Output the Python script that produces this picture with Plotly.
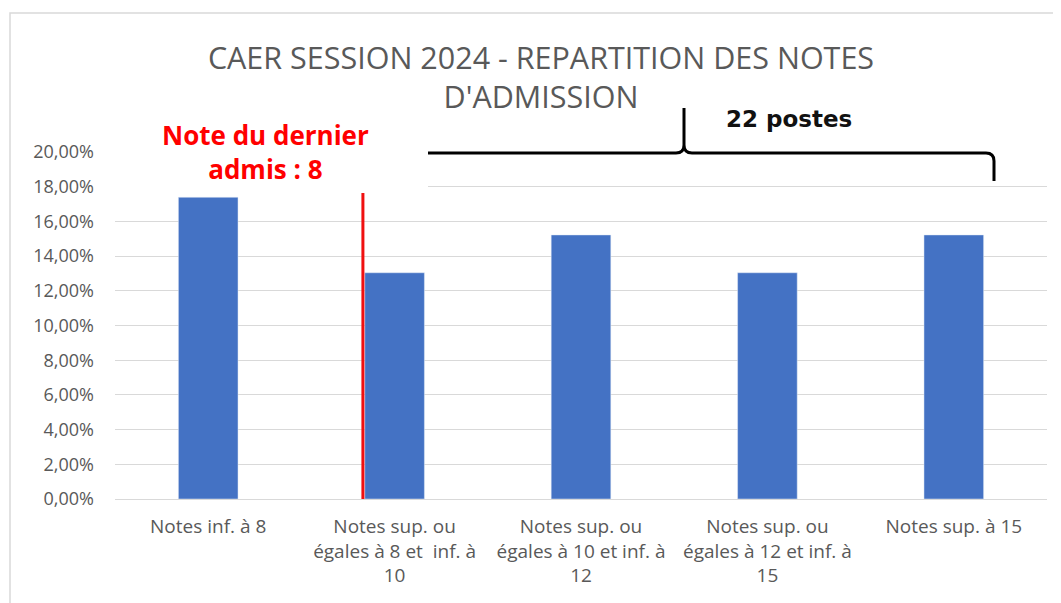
import plotly.graph_objects as go

categories = [
    "Notes inf. à 8",
    "Notes sup. ou<br>égales à 8 et  inf. à<br>10",
    "Notes sup. ou<br>égales à 10 et inf. à<br>12",
    "Notes sup. ou<br>égales à 12 et inf. à<br>15",
    "Notes sup. à 15",
]
shares = [0.1739, 0.1304, 0.1522, 0.1304, 0.1522]
title_text = "CAER SESSION 2024 - REPARTITION DES NOTES<br>D'ADMISSION"
cutoff_text = "Note du dernier<br>admis : 8"
posts_text = "22 postes"

OFF = 8  # page body margin
W, H = 1061 - OFF, 603 - OFF
L, T = 115 - OFF, 152 - OFF
PW, PH = 932, 347
R, B = W - L - PW, H - T - PH


def px(x):
    return (x - OFF - L) / PW


def py(y):
    return (T + PH - (y - OFF)) / PH


GRAY = "#595959"
fig = go.Figure(go.Bar(x=categories, y=shares, marker_color="#4472C4", width=0.32))

shapes = []
# outer chart frame
shapes.append(dict(type="rect", xref="paper", yref="paper", x0=px(10), x1=px(1075), y0=py(640), y1=py(13),
                   line=dict(color="#d9d9d9", width=1.5), fillcolor="rgba(0,0,0,0)", layer="below"))
# red cutoff line (between first and second category)
shapes.append(dict(type="line", xref="x", yref="y", x0=0.83, x1=0.83, y0=0, y1=0.19,
                   line=dict(color="#f01010", width=3), layer="above"))
# white box behind cutoff label
shapes.append(dict(type="rect", xref="paper", yref="paper", x0=px(105), x1=px(428), y0=py(193), y1=py(100),
                   line=dict(width=0), fillcolor="white", layer="above"))
# curly bracket
yh = py(153)
cx = px(684)
rx = px(994)
dx = 8 / PW
dy = 8 / PH
path = (f"M {px(428)},{yh} L {cx - dx},{yh} Q {cx},{yh} {cx},{yh + dy} L {cx},{py(108)} "
        f"M {cx},{yh + dy} Q {cx},{yh} {cx + dx},{yh} L {rx - dx},{yh} Q {rx},{yh} {rx},{yh - dy} L {rx},{py(181)}")
shapes.append(dict(type="path", xref="paper", yref="paper", path=path,
                   line=dict(color="black", width=3), layer="above"))

annotations = [
    dict(text=cutoff_text, xref="paper", yref="paper", x=px(265), y=py(152), showarrow=False,
         font=dict(family="Open Sans", size=26, color="#ff0000", weight="bold"), align="center",
         xanchor="center", yanchor="middle"),
    dict(text=posts_text, xref="paper", yref="paper", x=px(789), y=py(119), showarrow=False,
         font=dict(family="DejaVu Sans", size=23, color="#111111", weight="bold"),
         xanchor="center", yanchor="middle"),
]

fig.update_layout(
    width=W, height=H,
    margin=dict(l=L, r=R, t=T, b=B, pad=0),
    paper_bgcolor="white", plot_bgcolor="white",
    separators=", ",
    showlegend=False,
    title=dict(text=title_text, x=(541 - OFF) / W, xanchor="center", y=1 - (68.5 - OFF) / H, yanchor="middle",
               font=dict(family="Open Sans", size=30.5, color=GRAY)),
    shapes=shapes,
    annotations=annotations,
    bargap=0.68,
)
fig.update_yaxes(range=[0, 0.2], dtick=0.02, tickformat=".2%", gridcolor="#d9d9d9", gridwidth=1,
                 zeroline=True, zerolinecolor="#d9d9d9", zerolinewidth=1, showline=False,
                 tickfont=dict(family="Open Sans", size=18, color=GRAY), ticks="", ticklabelstandoff=20)
fig.update_xaxes(showline=False, ticks="", tickangle=0,
                 tickfont=dict(family="Open Sans", size=19, color=GRAY), ticklabelstandoff=14)

fig.write_html("out.html")
